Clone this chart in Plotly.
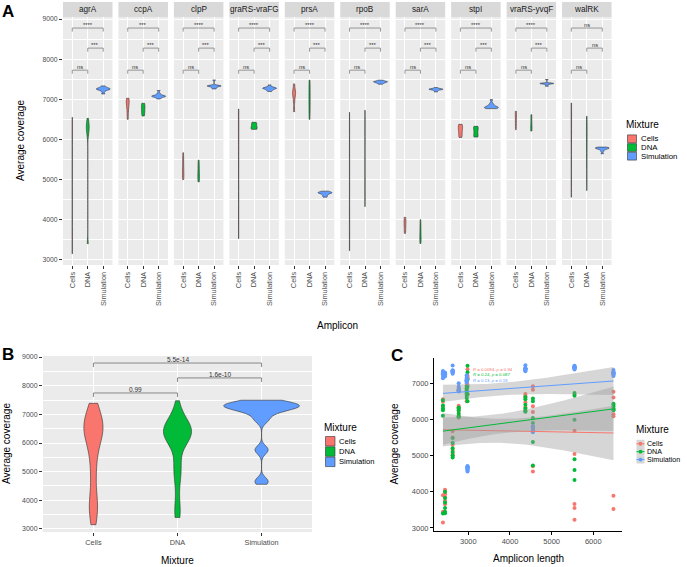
import numpy as np
import plotly.graph_objects as go

# ---------------- data ----------------
AMPLICONS = ["agrA", "ccpA", "clpP", "graRS-vraFG", "prsA", "rpoB", "sarA", "stpI", "vraRS-yvqF", "walRK"]
AMPLICON_LENGTH = [2390, 2960, 2623, 6485, 2980, 5550, 2440, 2768, 4370, 4550]
MIXTURES = ["Cells", "DNA", "Simulation"]

CELLS_COVERAGE = [
    [6550, 6480, 6350, 3900, 3450, 3150],   # agrA
    [7025, 6980, 6930, 6850, 6700, 6500],   # ccpA
    [5667, 5500, 5300, 5150, 5050, 5000],   # clpP
    [6758, 6600, 6140, 6080, 3890, 3525],   # graRS-vraFG
    [7383, 7200, 7150, 7120, 6950, 6692],   # prsA
    [6675, 5682, 5040, 3660, 3550, 3225],   # rpoB
    [4058, 4000, 3930, 3850, 3750, 3658],   # sarA
    [6375, 6330, 6280, 6200, 6100, 6050],   # stpI
    [6700, 6650, 6600, 6470, 6330, 6242],   # vraRS-yvqF
    [6908, 6816, 6358, 6202, 4700, 4558],   # walRK
]
DNA_COVERAGE = [
    [6525, 6380, 6300, 6250, 6100, 3400],
    [6900, 6850, 6800, 6720, 6650, 6583],
    [5483, 5350, 5200, 5100, 5000, 4942],
    [6425, 6400, 6350, 6300, 6270, 6250],
    [7475, 7300, 7100, 6900, 6700, 6500],
    [6725, 6650, 5985, 4900, 4600, 4325],
    [4000, 3830, 3700, 3550, 3450, 3408],
    [6325, 6300, 6250, 6150, 6080, 6058],
    [6617, 6550, 6400, 6300, 6230, 6208],
    [6575, 6495, 6037, 5900, 5375, 4725],
]
SIM_COVERAGE = [
    [7333, 7300, 7280, 7270, 7260, 7250, 7240, 7230, 7190, 7133],
    [7217, 7150, 7110, 7090, 7080, 7075, 7070, 7060, 7040, 7008],
    [7480, 7350, 7340, 7335, 7330, 7325, 7320, 7300, 7280, 7258],
    [7358, 7310, 7290, 7280, 7275, 7270, 7260, 7240, 7220, 7192],
    [4710, 4690, 4680, 4675, 4670, 4660, 4650, 4620, 4590, 4560],
    [7475, 7460, 7445, 7440, 7435, 7430, 7420, 7410, 7395, 7375],
    [7292, 7270, 7260, 7255, 7250, 7245, 7240, 7230, 7210, 7183],
    [6992, 6900, 6860, 6830, 6810, 6800, 6790, 6785, 6780, 6767],
    [7492, 7405, 7400, 7395, 7392, 7390, 7385, 7375, 7350, 7325],
    [5808, 5795, 5790, 5785, 5780, 5770, 5760, 5740, 5700, 5642],
]
SIG_CELLS_DNA = ["ns"] * 10
SIG_DNA_SIM = ["***"] * 9 + ["ns"]
SIG_CELLS_SIM = ["****", "***", "****", "****", "****", "****", "****", "****", "****", "ns"]
B_PVALUES = ["0.99", "1.6e-10", "5.5e-14"]   # Cells-DNA, DNA-Sim, Cells-Sim
COR_LABELS = ["<i>R</i> = 0.0094, <i>p</i> = 0.94",
              "<i>R</i> = 0.24, <i>p</i> = 0.087",
              "<i>R</i> = 0.13, <i>p</i> = 0.19"]

# ---------------- styling ----------------
W, H = 687, 567
FONT = "Liberation Sans, Arial, Helvetica, sans-serif"
COLORS = {"Cells": "#F8766D", "DNA": "#00BA38", "Simulation": "#619CFF"}
GROUPS = [CELLS_COVERAGE, DNA_COVERAGE, SIM_COVERAGE]
TICKC = "#4D4D4D"


def fx(x):
    return x / W


def fy(y):
    return 1 - y / H


def bw_nrd0(v):
    v = np.asarray(v, float)
    sd = v.std(ddof=1)
    q75, q25 = np.percentile(v, [75, 25])
    lo = min(sd, (q75 - q25) / 1.34)
    if lo <= 0:
        lo = sd if sd > 0 else 1.0
    return 0.9 * lo * len(v) ** -0.2


def t975(df):
    z = 1.959963985
    g1 = (z ** 3 + z) / 4
    g2 = (5 * z ** 5 + 16 * z ** 3 + 3 * z) / 96
    g3 = (3 * z ** 7 + 19 * z ** 5 + 17 * z ** 3 - 15 * z) / 384
    return z + g1 / df + g2 / df ** 2 + g3 / df ** 3


def lm_band(x, y, n=80):
    x = np.asarray(x, float)
    y = np.asarray(y, float)
    X = np.column_stack([np.ones_like(x), x])
    beta = np.linalg.lstsq(X, y, rcond=None)[0]
    res = y - X @ beta
    df = len(x) - 2
    s2 = res @ res / df
    xs = np.linspace(x.min(), x.max(), n)
    Xs = np.column_stack([np.ones_like(xs), xs])
    inv = np.linalg.inv(X.T @ X)
    se = np.sqrt(np.einsum("ij,jk,ik->i", Xs, inv, Xs) * s2)
    fit = Xs @ beta
    t = t975(df)
    return xs, fit, fit - t * se, fit + t * se


def an(i):
    return "" if i == 1 else str(i)


def text(x, y, s, size, color="black", xa="center", ya="middle", angle=0, xref="paper",
         yref="paper"):
    if xref == "paper":
        x = fx(x)
    if yref == "paper":
        y = fy(y)
    return dict(x=x, y=y, xref=xref, yref=yref, text=s, showarrow=False, xanchor=xa,
                yanchor=ya, textangle=angle, font=dict(size=size, color=color),
                borderpad=0, borderwidth=0)


fig = go.Figure()
layout = dict(template="none", width=W, height=H, margin=dict(l=0, r=0, t=0, b=0, pad=0),
              autosize=False, paper_bgcolor="white", plot_bgcolor="#EBEBEB", showlegend=False,
              font=dict(family=FONT, color=TICKC), violinmode="overlay", violingap=0.1,
              violingroupgap=0)
shapes = []
annos = []

# ---------------- panel A ----------------
A_LEFT, A_PITCH, A_W = 63.0, 55.45, 49.5
A_TOP, A_BOT, STRIP_TOP = 17, 265, 2
A_RANGE = [2870, 9050]
A_LEVELS = [7725, 8275, 8775]
A_TIP = 90
A_PAIRS = [(1, 2), (2, 3), (1, 3)]

for i, amp in enumerate(AMPLICONS):
    k = i + 1
    l = A_LEFT + i * A_PITCH
    layout["xaxis" + an(k)] = dict(
        domain=[fx(l), fx(l + A_W)], range=[0.4, 3.6], tickvals=[1, 2, 3], ticktext=MIXTURES,
        tickangle=-90, showgrid=True, gridcolor="white", gridwidth=1, ticks="outside",
        ticklen=3, tickwidth=0.8, tickcolor="#333333", tickfont=dict(size=7.3, color=TICKC),
        zeroline=False, showline=False, anchor="y" + an(k), fixedrange=True, automargin=False)
    layout["yaxis" + an(k)] = dict(
        domain=[fy(A_BOT), fy(A_TOP)], range=A_RANGE, tick0=0, dtick=1000,
        minor=dict(dtick=500, tick0=0, showgrid=True, gridcolor="white", gridwidth=0.5),
        showgrid=True, gridcolor="white", gridwidth=1, zeroline=False, showline=False,
        anchor="x" + an(k), showticklabels=(i == 0), ticks="outside" if i == 0 else "",
        ticklen=3, tickwidth=0.8, tickcolor="#333333", tickfont=dict(size=6.8, color=TICKC),
        fixedrange=True, automargin=False)
    shapes.append(dict(type="rect", xref="paper", yref="paper", x0=fx(l), x1=fx(l + A_W),
                       y0=fy(A_TOP), y1=fy(STRIP_TOP), fillcolor="#D9D9D9", line=dict(width=0),
                       layer="below"))
    annos.append(text(l + A_W / 2, (A_TOP + STRIP_TOP) / 2, amp, 8.2, "#1A1A1A"))
    for j, mix in enumerate(MIXTURES):
        vals = GROUPS[j][i]
        fig.add_trace(go.Violin(
            x=[j + 1] * len(vals), y=vals, xaxis="x" + an(k), yaxis="y" + an(k),
            spanmode="hard", bandwidth=bw_nrd0(vals), scalemode="width",
            scalegroup="A%d" % i, fillcolor=COLORS[mix], opacity=1,
            line=dict(color="#333333", width=0.6), points=False, hoverinfo="skip",
            showlegend=False))
    labels = [SIG_CELLS_DNA[i], SIG_DNA_SIM[i], SIG_CELLS_SIM[i]]
    for (a, b), lev, lab in zip(A_PAIRS, A_LEVELS, labels):
        fig.add_trace(go.Scatter(x=[a, a, b, b], y=[lev - A_TIP, lev, lev, lev - A_TIP],
                                 mode="lines", line=dict(color="#808080", width=0.8),
                                 xaxis="x" + an(k), yaxis="y" + an(k), hoverinfo="skip",
                                 showlegend=False))
        annos.append(text((a + b) / 2, lev, lab, 5.8, "#333333", ya="bottom",
                          xref="x" + an(k), yref="y" + an(k)))

annos.append(text(21, (A_TOP + A_BOT) / 2, "Average coverage", 10, angle=-90))
annos.append(text(337, 325, "Amplicon", 10))

# ---------------- panel B ----------------
B_L, B_R, B_T, B_B = 43, 312, 356, 532
B_LEVELS = [7745, 8270, 8790]
B_TIP = 140
layout["xaxis11"] = dict(domain=[fx(B_L), fx(B_R)], range=[0.4, 3.6], tickvals=[1, 2, 3],
                         ticktext=MIXTURES, showgrid=True, gridcolor="white", gridwidth=1,
                         ticks="outside", ticklen=3, tickwidth=0.8, tickcolor="#333333",
                         tickfont=dict(size=7.3, color=TICKC), zeroline=False, showline=False,
                         anchor="y11", automargin=False)
layout["yaxis11"] = dict(domain=[fy(B_B), fy(B_T)], range=[2895, 9035], tick0=0, dtick=1000,
                         minor=dict(dtick=500, tick0=0, showgrid=True, gridcolor="white",
                                    gridwidth=0.5),
                         showgrid=True, gridcolor="white", gridwidth=1, zeroline=False,
                         showline=False, ticks="outside", ticklen=3, tickwidth=0.8,
                         tickcolor="#333333", tickfont=dict(size=7, color=TICKC),
                         anchor="x11", automargin=False)
for j, mix in enumerate(MIXTURES):
    vals = [v for grp in GROUPS[j] for v in grp]
    fig.add_trace(go.Violin(
        x=[j + 1] * len(vals), y=vals, xaxis="x11", yaxis="y11", spanmode="hard",
        bandwidth=bw_nrd0(vals), scalemode="width", scalegroup="B", fillcolor=COLORS[mix],
        opacity=1, line=dict(color="#333333", width=0.6), points=False, hoverinfo="skip",
        showlegend=False))
for (a, b), lev, lab in zip([(1, 2), (2, 3), (1, 3)], B_LEVELS, B_PVALUES):
    fig.add_trace(go.Scatter(x=[a, a, b, b], y=[lev - B_TIP, lev, lev, lev - B_TIP],
                             mode="lines", line=dict(color="#6E6E6E", width=0.8),
                             xaxis="x11", yaxis="y11", hoverinfo="skip", showlegend=False))
    annos.append(text((a + b) / 2, lev, lab, 6.5, "#333333", ya="bottom", xref="x11",
                      yref="y11"))
annos.append(text(6, (B_T + B_B) / 2, "Average coverage", 10, angle=-90))
annos.append(text((B_L + B_R) / 2, 560, "Mixture", 10))

# ---------------- panel C ----------------
C_L, C_R, C_T, C_B = 434, 622, 358, 531
layout["xaxis12"] = dict(domain=[fx(C_L), fx(C_R)], range=[2175, 6690], tick0=0, dtick=1000,
                         showgrid=False, zeroline=False, showline=True, linecolor="black",
                         linewidth=1, ticks="outside", ticklen=3, tickwidth=0.8,
                         tickcolor="black", tickfont=dict(size=7.5, color=TICKC), anchor="y12",
                         automargin=False)
layout["yaxis12"] = dict(domain=[fy(C_B), fy(C_T)], range=[2917, 7690], tick0=0, dtick=1000,
                         showgrid=False, zeroline=False, showline=True, linecolor="black",
                         linewidth=1, ticks="outside", ticklen=3, tickwidth=0.8,
                         tickcolor="black", tickfont=dict(size=7.5, color=TICKC), anchor="x12",
                         automargin=False)
shapes.append(dict(type="rect", xref="paper", yref="paper", x0=fx(C_L), x1=fx(C_R),
                   y0=fy(C_B), y1=fy(C_T), fillcolor="white", line=dict(width=0), layer="below"))

for j, mix in enumerate(MIXTURES):
    xs, ys = [], []
    for i in range(len(AMPLICONS)):
        xs += [AMPLICON_LENGTH[i]] * len(GROUPS[j][i])
        ys += GROUPS[j][i]
    fig.add_trace(go.Scatter(x=xs, y=ys, mode="markers", xaxis="x12", yaxis="y12",
                             marker=dict(color=COLORS[mix], size=4, line=dict(width=0)),
                             hoverinfo="skip", showlegend=False))
for j, mix in enumerate(MIXTURES):
    xs, ys = [], []
    for i in range(len(AMPLICONS)):
        xs += [AMPLICON_LENGTH[i]] * len(GROUPS[j][i])
        ys += GROUPS[j][i]
    gx, fit, lo, hi = lm_band(xs, ys)
    fig.add_trace(go.Scatter(x=list(gx) + list(gx[::-1]), y=list(hi) + list(lo[::-1]),
                             fill="toself", fillcolor="rgba(153,153,153,0.4)",
                             line=dict(width=0), mode="lines", xaxis="x12", yaxis="y12",
                             hoverinfo="skip", showlegend=False))
    fig.add_trace(go.Scatter(x=gx, y=fit, mode="lines", line=dict(color=COLORS[mix], width=1),
                             xaxis="x12", yaxis="y12", hoverinfo="skip", showlegend=False))

for j, (mix, lab) in enumerate(zip(MIXTURES, COR_LABELS)):
    annos.append(text(473, 369 + 5.8 * j, lab, 4.3, COLORS[mix], xa="left"))
annos.append(text(394, (C_T + C_B) / 2, "Average coverage", 10, angle=-90))
annos.append(text((C_L + C_R) / 2, 558, "Amplicon length", 10))

# ---------------- legends ----------------
# A
annos.append(text(626, 124, "Mixture", 10, xa="left"))
for j, mix in enumerate(MIXTURES):
    t = 134.5 + 8.7 * j
    shapes.append(dict(type="rect", xref="paper", yref="paper", x0=fx(627.5), x1=fx(636.5),
                       y0=fy(t + 8.2), y1=fy(t + 0.4), fillcolor=COLORS[mix],
                       line=dict(color="#333333", width=0.6)))
    annos.append(text(641, t + 4.3, mix, 7.8, xa="left"))
# B
annos.append(text(324, 427, "Mixture", 10, xa="left"))
for j, mix in enumerate(MIXTURES):
    t = 436 + 10.3 * j
    shapes.append(dict(type="rect", xref="paper", yref="paper", x0=fx(325.5), x1=fx(335),
                       y0=fy(t + 10), y1=fy(t + 0.5), fillcolor=COLORS[mix],
                       line=dict(color="#333333", width=0.6)))
    annos.append(text(339, t + 5.2, mix, 7.6, xa="left"))
# C
annos.append(text(636, 429, "Mixture", 10, xa="left"))
for j, mix in enumerate(MIXTURES):
    t = 439.8 + 7.9 * j
    shapes.append(dict(type="rect", xref="paper", yref="paper", x0=fx(636.5), x1=fx(644.5),
                       y0=fy(t + 7.9), y1=fy(t), fillcolor="rgba(153,153,153,0.4)",
                       line=dict(width=0)))
    shapes.append(dict(type="line", xref="paper", yref="paper", x0=fx(636.5), x1=fx(644.5),
                       y0=fy(t + 3.95), y1=fy(t + 3.95), line=dict(color=COLORS[mix], width=1)))
    shapes.append(dict(type="circle", xref="paper", yref="paper", x0=fx(638.6), x1=fx(642.4),
                       y0=fy(t + 5.85), y1=fy(t + 2.05), fillcolor=COLORS[mix],
                       line=dict(width=0)))
    annos.append(text(647, t + 3.95, mix, 7.1, xa="left"))

# panel letters
for letter, x, y in [("A", 8, 11), ("B", 8, 354), ("C", 397, 355)]:
    annos.append(text(x, y, "<b>%s</b>" % letter, 17))

layout["shapes"] = shapes
layout["annotations"] = annos
fig.update_layout(**layout)
fig.write_html("out.html", config={"displayModeBar": False},
               post_script="document.body.style.margin='0px';"
                           "document.body.style.padding='0px';"
                           "document.documentElement.style.overflow='hidden';")
